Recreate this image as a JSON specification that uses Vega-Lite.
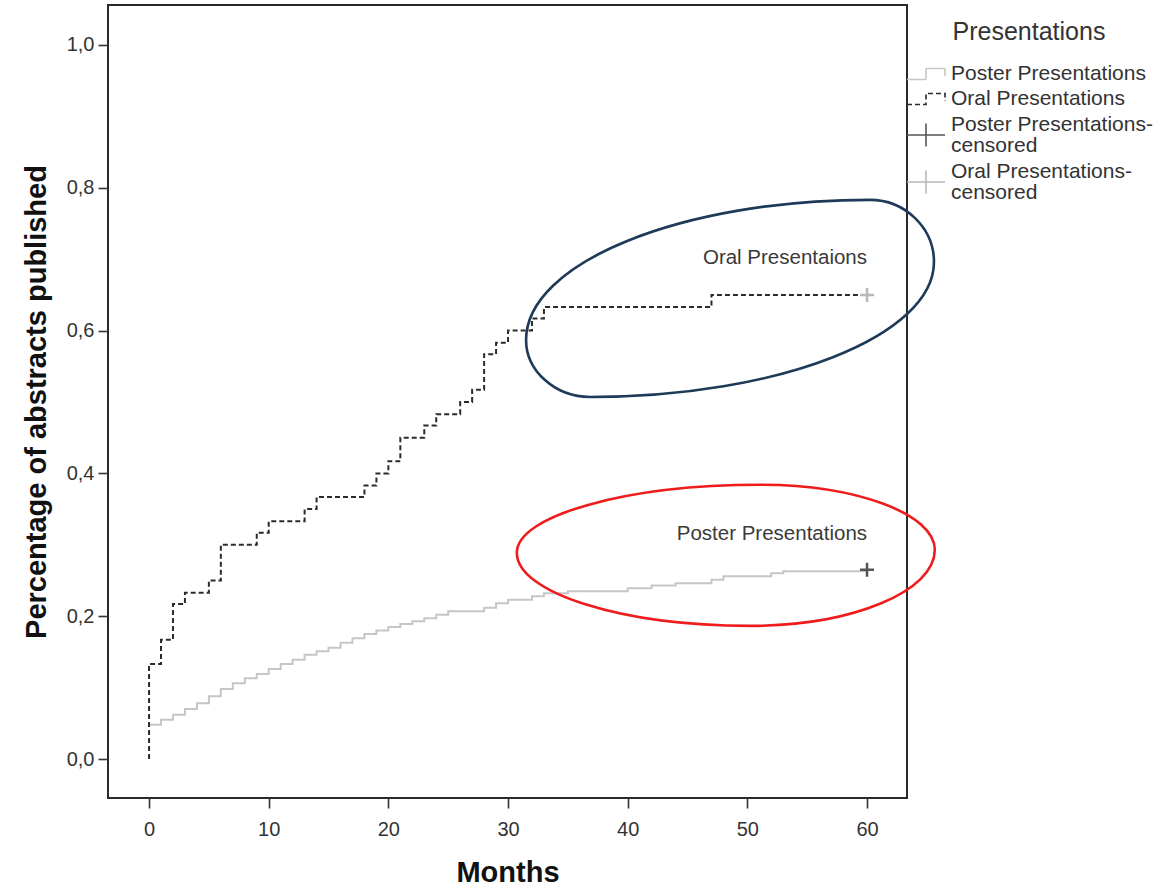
{
  "$schema": "https://vega.github.io/schema/vega-lite/v6.json",
  "autosize": "none",
  "padding": {"left": 108, "top": 5, "right": 261, "bottom": 90},
  "width": 799,
  "height": 793,
  "background": "white",
  "config": {
    "view": {"stroke": "#2a2a2a", "strokeWidth": 2},
    "font": "Liberation Sans"
  },
  "datasets": {
    "curves": [
      {"Presentations": "Poster Presentations", "month": 0, "p": 0.048},
      {"Presentations": "Poster Presentations", "month": 1, "p": 0.055},
      {"Presentations": "Poster Presentations", "month": 2, "p": 0.062},
      {"Presentations": "Poster Presentations", "month": 3, "p": 0.070},
      {"Presentations": "Poster Presentations", "month": 4, "p": 0.078},
      {"Presentations": "Poster Presentations", "month": 5, "p": 0.088},
      {"Presentations": "Poster Presentations", "month": 6, "p": 0.098},
      {"Presentations": "Poster Presentations", "month": 7, "p": 0.106},
      {"Presentations": "Poster Presentations", "month": 8, "p": 0.113},
      {"Presentations": "Poster Presentations", "month": 9, "p": 0.119},
      {"Presentations": "Poster Presentations", "month": 10, "p": 0.126},
      {"Presentations": "Poster Presentations", "month": 11, "p": 0.133},
      {"Presentations": "Poster Presentations", "month": 12, "p": 0.139},
      {"Presentations": "Poster Presentations", "month": 13, "p": 0.146},
      {"Presentations": "Poster Presentations", "month": 14, "p": 0.151},
      {"Presentations": "Poster Presentations", "month": 15, "p": 0.156},
      {"Presentations": "Poster Presentations", "month": 16, "p": 0.163},
      {"Presentations": "Poster Presentations", "month": 17, "p": 0.169},
      {"Presentations": "Poster Presentations", "month": 18, "p": 0.175},
      {"Presentations": "Poster Presentations", "month": 19, "p": 0.180},
      {"Presentations": "Poster Presentations", "month": 20, "p": 0.185},
      {"Presentations": "Poster Presentations", "month": 21, "p": 0.189},
      {"Presentations": "Poster Presentations", "month": 22, "p": 0.193},
      {"Presentations": "Poster Presentations", "month": 23, "p": 0.197},
      {"Presentations": "Poster Presentations", "month": 24, "p": 0.202},
      {"Presentations": "Poster Presentations", "month": 25, "p": 0.207},
      {"Presentations": "Poster Presentations", "month": 28, "p": 0.212},
      {"Presentations": "Poster Presentations", "month": 29, "p": 0.218},
      {"Presentations": "Poster Presentations", "month": 30, "p": 0.223},
      {"Presentations": "Poster Presentations", "month": 32, "p": 0.228},
      {"Presentations": "Poster Presentations", "month": 33, "p": 0.232},
      {"Presentations": "Poster Presentations", "month": 35, "p": 0.235},
      {"Presentations": "Poster Presentations", "month": 40, "p": 0.239},
      {"Presentations": "Poster Presentations", "month": 42, "p": 0.243},
      {"Presentations": "Poster Presentations", "month": 44, "p": 0.246},
      {"Presentations": "Poster Presentations", "month": 47, "p": 0.251},
      {"Presentations": "Poster Presentations", "month": 48, "p": 0.256},
      {"Presentations": "Poster Presentations", "month": 52, "p": 0.260},
      {"Presentations": "Poster Presentations", "month": 53, "p": 0.263},
      {"Presentations": "Poster Presentations", "month": 60, "p": 0.265},
      {"Presentations": "Oral Presentations", "month": 0, "p": 0},
      {"Presentations": "Oral Presentations", "month": 0, "p": 0.133},
      {"Presentations": "Oral Presentations", "month": 1, "p": 0.167},
      {"Presentations": "Oral Presentations", "month": 2, "p": 0.217},
      {"Presentations": "Oral Presentations", "month": 3, "p": 0.233},
      {"Presentations": "Oral Presentations", "month": 5, "p": 0.250},
      {"Presentations": "Oral Presentations", "month": 6, "p": 0.300},
      {"Presentations": "Oral Presentations", "month": 9, "p": 0.317},
      {"Presentations": "Oral Presentations", "month": 10, "p": 0.333},
      {"Presentations": "Oral Presentations", "month": 13, "p": 0.350},
      {"Presentations": "Oral Presentations", "month": 14, "p": 0.367},
      {"Presentations": "Oral Presentations", "month": 18, "p": 0.383},
      {"Presentations": "Oral Presentations", "month": 19, "p": 0.400},
      {"Presentations": "Oral Presentations", "month": 20, "p": 0.417},
      {"Presentations": "Oral Presentations", "month": 21, "p": 0.450},
      {"Presentations": "Oral Presentations", "month": 23, "p": 0.467},
      {"Presentations": "Oral Presentations", "month": 24, "p": 0.483},
      {"Presentations": "Oral Presentations", "month": 26, "p": 0.500},
      {"Presentations": "Oral Presentations", "month": 27, "p": 0.517},
      {"Presentations": "Oral Presentations", "month": 28, "p": 0.567},
      {"Presentations": "Oral Presentations", "month": 29, "p": 0.583},
      {"Presentations": "Oral Presentations", "month": 30, "p": 0.600},
      {"Presentations": "Oral Presentations", "month": 32, "p": 0.617},
      {"Presentations": "Oral Presentations", "month": 33, "p": 0.633},
      {"Presentations": "Oral Presentations", "month": 47, "p": 0.650},
      {"Presentations": "Oral Presentations", "month": 60, "p": 0.650}
    ],
    "censored": [
      {"Presentations": "Poster Presentations-censored", "month": 60, "p": 0.265},
      {"Presentations": "Oral Presentations-censored", "month": 60, "p": 0.650}
    ],
    "notes": [
      {"label": "Oral Presentaions", "month": 60, "p": 0.702},
      {"label": "Poster Presentations", "month": 60, "p": 0.315}
    ],
    "ovalOral": [{"month": 48.55, "p": 0.643}],
    "ovalPoster": [{"month": 48.2, "p": 0.286}]
  },
  "layer": [
    {
      "data": {"name": "curves"},
      "mark": {"type": "line", "interpolate": "step-after", "strokeWidth": 2},
      "encoding": {
        "x": {
          "field": "month", "type": "quantitative",
          "scale": {"domain": [-3.43, 63.34], "nice": false, "zero": false},
          "axis": {
            "values": [0, 10, 20, 30, 40, 50, 60], "domain": false, "grid": false,
            "tickSize": 10, "tickWidth": 1.6, "tickColor": "#333",
            "labelFont": "Liberation Sans", "labelFontSize": 20, "labelColor": "#333", "labelPadding": 11,
            "title": "Months", "titleFont": "Liberation Sans", "titleFontSize": 29, "titleFontWeight": "bold", "titleColor": "#111", "titlePadding": 19
          }
        },
        "y": {
          "field": "p", "type": "quantitative",
          "scale": {"domain": [-0.0546, 1.056], "nice": false, "zero": false},
          "axis": {
            "values": [0, 0.2, 0.4, 0.6, 0.8, 1.0], "domain": false, "grid": false,
            "labelExpr": "replace(format(datum.value, '.1f'), '.', ',')",
            "tickSize": 10, "tickWidth": 1.6, "tickColor": "#333",
            "labelFont": "Liberation Sans", "labelFontSize": 20, "labelColor": "#333", "labelPadding": 4,
            "title": "Percentage of abstracts published", "titleFont": "Liberation Sans", "titleFontSize": 29, "titleFontWeight": "bold", "titleColor": "#111", "titlePadding": 15
          }
        },
        "order": [{"field": "month", "type": "quantitative"}, {"field": "p", "type": "quantitative"}],
        "color": {
          "field": "Presentations", "type": "nominal",
          "scale": {
            "domain": ["Poster Presentations", "Oral Presentations", "Poster Presentations-censored", "Oral Presentations-censored"],
            "range": ["#c6c6c6", "#2b2b2b", "#555555", "#b8b8b8"]
          },
          "legend": {
            "title": "Presentations", "orient": "none", "legendX": 798, "legendY": 15,
            "titleFont": "Liberation Sans", "titleFontSize": 25, "titleFontWeight": "normal", "titleColor": "#333", "titleAnchor": "middle", "titlePadding": 18,
            "labelFont": "Liberation Sans", "labelFontSize": 21, "labelColor": "#333", "labelLimit": 400, "labelOffset": 14,
            "symbolSize": 400, "symbolOffset": 9, "symbolStrokeWidth": 1.6, "rowPadding": 4,
            "labelExpr": "indexof(datum.label, '-censored') > 0 ? [replace(datum.label, 'censored', ''), 'censored'] : datum.label",
            "encode": {
              "symbols": {"update": {
                "shape": {"signal": "indexof(datum.value, 'censored') > 0 ? 'M -1.9 0 H 1.9 M 0 -1.15 V 1.15' : 'M -1.9 0.55 H 0 V -0.55 H 1.9 V 0.2'"},
                "fill": {"value": "transparent"},
                "size": {"value": 400}
              }},
              "labels": {"update": {
                "lineHeight": {"value": 21},
                "dy": {"signal": "indexof(datum.value, 'censored') > 0 ? -10.5 : 0"}
              }}
            }
          }
        },
        "strokeDash": {
          "field": "Presentations", "type": "nominal",
          "scale": {
            "domain": ["Poster Presentations", "Oral Presentations", "Poster Presentations-censored", "Oral Presentations-censored"],
            "range": [[1, 0], [5, 3], [1, 0], [1, 0]]
          },
          "legend": {
            "title": "Presentations", "orient": "none", "legendX": 798, "legendY": 15,
            "titleFont": "Liberation Sans", "titleFontSize": 25, "titleFontWeight": "normal", "titleColor": "#333", "titleAnchor": "middle", "titlePadding": 18,
            "labelFont": "Liberation Sans", "labelFontSize": 21, "labelColor": "#333", "labelLimit": 400, "labelOffset": 14,
            "symbolSize": 400, "symbolOffset": 9, "symbolStrokeWidth": 1.6, "rowPadding": 4,
            "labelExpr": "indexof(datum.label, '-censored') > 0 ? [replace(datum.label, 'censored', ''), 'censored'] : datum.label",
            "encode": {
              "symbols": {"update": {
                "shape": {"signal": "indexof(datum.value, 'censored') > 0 ? 'M -1.9 0 H 1.9 M 0 -1.15 V 1.15' : 'M -1.9 0.55 H 0 V -0.55 H 1.9 V 0.2'"},
                "fill": {"value": "transparent"},
                "size": {"value": 400}
              }},
              "labels": {"update": {
                "lineHeight": {"value": 21},
                "dy": {"signal": "indexof(datum.value, 'censored') > 0 ? -10.5 : 0"}
              }}
            }
          }
        }
      }
    },
    {
      "data": {"name": "censored"},
      "mark": {"type": "point", "shape": "M -1 0 H 1 M 0 -1 V 1", "size": 196, "strokeWidth": 2.5, "filled": false, "opacity": 1},
      "encoding": {
        "x": {"field": "month", "type": "quantitative"},
        "y": {"field": "p", "type": "quantitative"},
        "color": {
          "field": "Presentations", "type": "nominal",
          "legend": {
            "title": "Presentations", "orient": "none", "legendX": 798, "legendY": 15,
            "titleFont": "Liberation Sans", "titleFontSize": 25, "titleFontWeight": "normal", "titleColor": "#333", "titleAnchor": "middle", "titlePadding": 18,
            "labelFont": "Liberation Sans", "labelFontSize": 21, "labelColor": "#333", "labelLimit": 400, "labelOffset": 14,
            "symbolSize": 400, "symbolOffset": 9, "symbolStrokeWidth": 1.6, "rowPadding": 4,
            "labelExpr": "indexof(datum.label, '-censored') > 0 ? [replace(datum.label, 'censored', ''), 'censored'] : datum.label",
            "encode": {
              "symbols": {"update": {
                "shape": {"signal": "indexof(datum.value, 'censored') > 0 ? 'M -1.9 0 H 1.9 M 0 -1.15 V 1.15' : 'M -1.9 0.55 H 0 V -0.55 H 1.9 V 0.2'"},
                "fill": {"value": "transparent"},
                "size": {"value": 400}
              }},
              "labels": {"update": {
                "lineHeight": {"value": 21},
                "dy": {"signal": "indexof(datum.value, 'censored') > 0 ? -10.5 : 0"}
              }}
            }
          }
        }
      }
    },
    {
      "data": {"name": "notes"},
      "mark": {"type": "text", "align": "right", "baseline": "middle", "font": "Liberation Sans", "fontSize": 20.5, "color": "#3a3a3a"},
      "encoding": {
        "x": {"field": "month", "type": "quantitative"},
        "y": {"field": "p", "type": "quantitative"},
        "text": {"field": "label", "type": "nominal"}
      }
    },
    {
      "data": {"name": "ovalOral"},
      "mark": {"type": "point", "shape": "M -0.962 0.189 C -0.962 -0.175 -0.231 -0.472 0.660 -0.472 C 0.825 -0.472 0.962 -0.340 0.962 -0.179 C 0.962 0.170 0.231 0.458 -0.660 0.458 C -0.825 0.458 -0.962 0.335 -0.962 0.189 Z", "size": 179776, "filled": false, "stroke": "#1d3a58", "strokeWidth": 2.6, "opacity": 1},
      "encoding": {
        "x": {"field": "month", "type": "quantitative"},
        "y": {"field": "p", "type": "quantitative"}
      }
    },
    {
      "data": {"name": "ovalPoster"},
      "mark": {"type": "point", "shape": "M -1 -0.010 C -1 -0.187 -0.478 -0.335 0.163 -0.335 C 0.622 -0.335 1 -0.196 1 -0.024 C 1 0.177 0.603 0.340 0.115 0.340 C -0.498 0.340 -1 0.182 -1 -0.010 Z", "size": 174724, "filled": false, "stroke": "#ee1c1c", "strokeWidth": 2.6, "opacity": 1},
      "encoding": {
        "x": {"field": "month", "type": "quantitative"},
        "y": {"field": "p", "type": "quantitative"}
      }
    }
  ]
}
